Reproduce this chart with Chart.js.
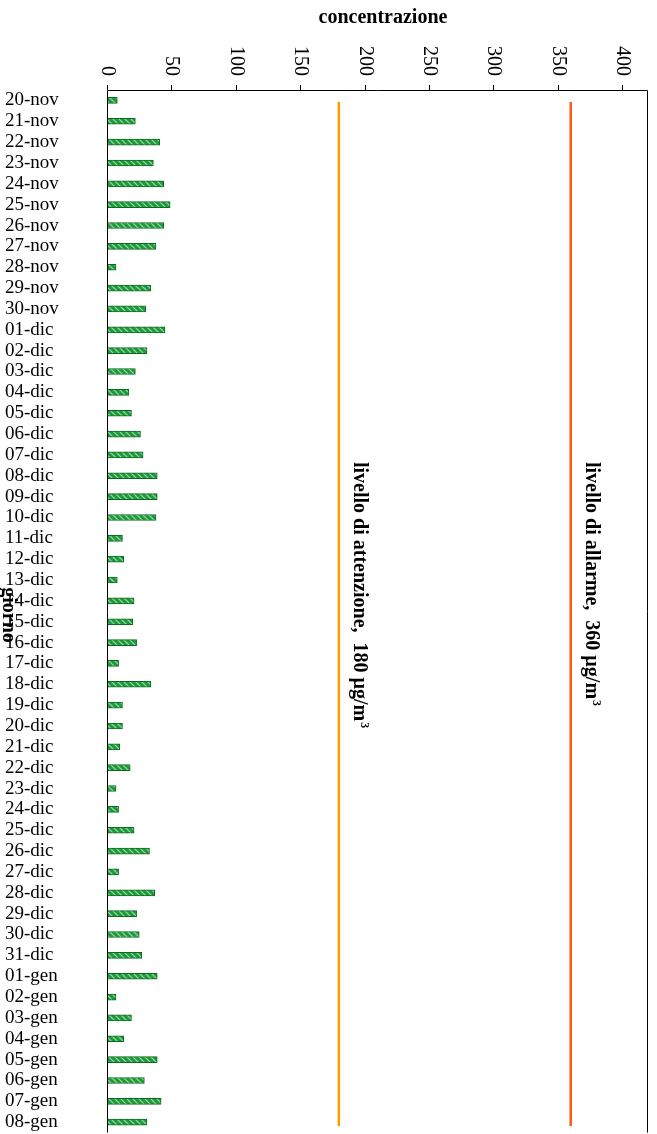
<!DOCTYPE html>
<html>
<head>
<meta charset="utf-8">
<script src="https://cdn.jsdelivr.net/npm/chart.js@4.4.0/dist/chart.umd.min.js"></script>
<style>
  body { margin: 0; overflow: hidden; background: #fff; }
  #wrap { width: 657px; height: 1148px; }
</style>
</head>
<body>
<div id="wrap"><canvas id="chart"></canvas></div>
<script>
const giorni = [
  '20-nov','21-nov','22-nov','23-nov','24-nov','25-nov','26-nov','27-nov','28-nov','29-nov','30-nov',
  '01-dic','02-dic','03-dic','04-dic','05-dic','06-dic','07-dic','08-dic','09-dic','10-dic',
  '11-dic','12-dic','13-dic','14-dic','15-dic','16-dic','17-dic','18-dic','19-dic','20-dic',
  '21-dic','22-dic','23-dic','24-dic','25-dic','26-dic','27-dic','28-dic','29-dic','30-dic','31-dic',
  '01-gen','02-gen','03-gen','04-gen','05-gen','06-gen','07-gen','08-gen'
];
const concentrazione = [
  8, 22, 41, 36, 44, 49, 44, 38, 7, 34, 30,
  45, 31, 22, 17, 19, 26, 28, 39, 39, 38,
  12, 13, 8, 21, 20, 23, 9, 34, 12, 12,
  10, 18, 7, 9, 21, 33, 9, 37, 23, 25, 27,
  39, 7, 19, 13, 39, 29, 42, 31
];
const soglie = [
  { valore: 180, testo: 'livello di attenzione,  180 µg/m', colore: '#ff9a00' },
  { valore: 360, testo: 'livello di allarme,  360 µg/m', colore: '#ff5a10' }
];
const tickValori = [0, 50, 100, 150, 200, 250, 300, 350, 400];

// hatched green fill
function hatch() {
  const c = document.createElement('canvas');
  c.width = 6; c.height = 6;
  const g = c.getContext('2d');
  g.fillStyle = '#1f9a3a';
  g.fillRect(0, 0, 6, 6);
  g.strokeStyle = '#9ad9a6';
  g.lineWidth = 1.2;
  g.beginPath();
  g.moveTo(0, 0); g.lineTo(6, 6);
  g.moveTo(-3, 3); g.lineTo(3, 9);
  g.moveTo(3, -3); g.lineTo(9, 3);
  g.stroke();
  return g.createPattern(c, 'repeat');
}

const decor = {
  id: 'decor',
  afterDraw(chart) {
    const ctx = chart.ctx;
    const x = chart.scales.x;
    const a = chart.chartArea;
    ctx.save();
    // frame
    ctx.strokeStyle = '#000';
    ctx.lineWidth = 1;
    ctx.beginPath();
    ctx.moveTo(a.left + 0.5, a.bottom); ctx.lineTo(a.left + 0.5, a.top + 0.5);
    ctx.lineTo(a.right - 0.5, a.top + 0.5); ctx.lineTo(a.right - 0.5, a.bottom);
    ctx.stroke();
    // ticks, rotated
    ctx.font = '20px "Liberation Serif", "Times New Roman", serif';
    ctx.fillStyle = '#000';
    tickValori.forEach(v => {
      const px = Math.round(x.getPixelForValue(v)) + 0.5;
      ctx.beginPath(); ctx.moveTo(px, a.top - 5); ctx.lineTo(px, a.top); ctx.stroke();
      ctx.save();
      ctx.translate(px, a.top - 14);
      ctx.rotate(Math.PI / 2);
      ctx.textAlign = 'right'; ctx.textBaseline = 'middle';
      ctx.fillText(String(v), 0, 0);
      ctx.restore();
    });
    // threshold lines
    soglie.forEach(s => {
      const px = x.getPixelForValue(s.valore);
      ctx.strokeStyle = s.colore;
      ctx.lineWidth = 2.5;
      ctx.beginPath(); ctx.moveTo(px, a.top + 12); ctx.lineTo(px, 1126); ctx.stroke();
      ctx.save();
      ctx.translate(px + 10, 462);
      ctx.rotate(Math.PI / 2);
      ctx.font = 'bold 20px "Liberation Serif", serif';
      ctx.fillStyle = '#000';
      ctx.textAlign = 'left'; ctx.textBaseline = 'bottom';
      ctx.fillText(s.testo, 0, 0);
      const w = ctx.measureText(s.testo).width;
      ctx.font = 'bold 12px "Liberation Serif", serif';
      ctx.fillText('3', w + 1, -9);
      ctx.restore();
    });
    // titles
    ctx.font = 'bold 20px "Liberation Serif", serif';
    ctx.fillStyle = '#000';
    ctx.textAlign = 'center'; ctx.textBaseline = 'middle';
    ctx.fillText('concentrazione', 383, 18);
    ctx.save();
    ctx.translate(8, 615);
    ctx.rotate(Math.PI / 2);
    ctx.fillText('giorno', 0, 0);
    ctx.restore();
    ctx.restore();
  }
};

new Chart(document.getElementById('chart').getContext('2d'), {
  type: 'bar',
  data: {
    labels: giorni,
    datasets: [{
      data: concentrazione,
      backgroundColor: hatch(),
      borderColor: '#0b6a22',
      borderWidth: 1,
      borderSkipped: false,
      barThickness: 6
    }]
  },
  options: {
    indexAxis: 'y',
    responsive: true,
    maintainAspectRatio: false,
    animation: false,
    layout: { padding: { top: 90, right: 9, bottom: 0, left: 5 } },
    plugins: { legend: { display: false }, tooltip: { enabled: false } },
    scales: {
      x: {
        position: 'top',
        min: 0, max: 420,
        display: false,
        ticks: { stepSize: 50 }
      },
      y: {
        grid: { display: false },
        border: { display: false },
        afterFit(s) { s.width = 102; },
        ticks: {
          autoSkip: false,
          color: '#000',
          padding: 4,
          crossAlign: 'far',
          font: { family: '"Liberation Serif", "Times New Roman", serif', size: 19 }
        }
      }
    }
  },
  plugins: [decor]
});
</script>
</body>
</html>
